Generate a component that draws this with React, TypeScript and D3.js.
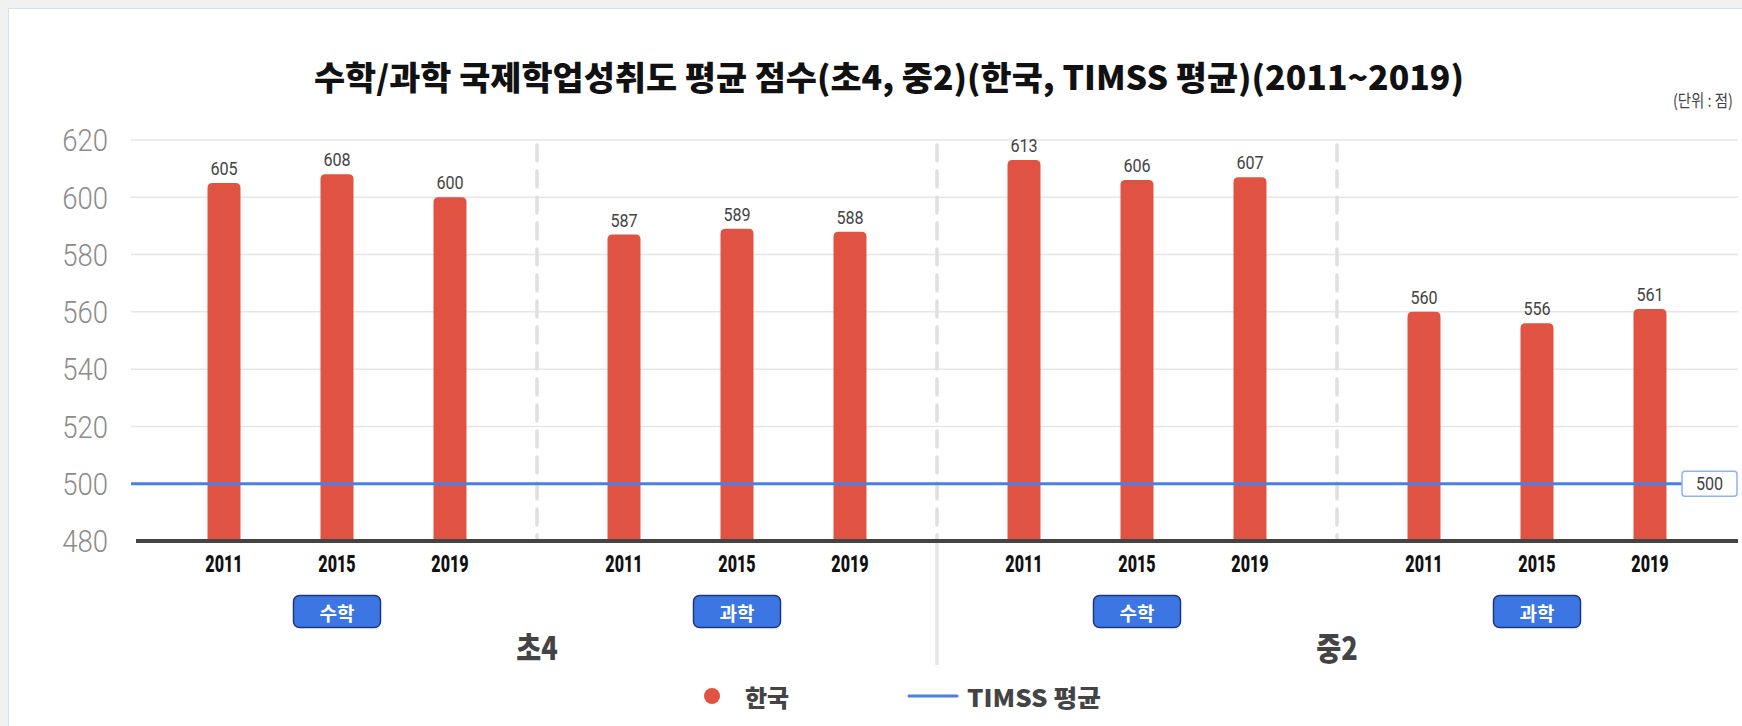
import React from 'react';
import * as d3 from 'd3';

// 데이터
const grades = ['초4', '중2'];
const subjects = ['수학', '과학', '수학', '과학'];
const years = ['2011', '2015', '2019'];
const math4 = [605, 608, 600];
const sci4 = [587, 589, 588];
const math8 = [613, 606, 607];
const sci8 = [560, 556, 561];
const timssAvg = 500;
const yDomain = [480, 620];
const legendLabels = ['한국', 'TIMSS 평균'];
const title = '수학/과학 국제학업성취도 평균 점수(초4, 중2)(한국, TIMSS 평균)(2011~2019)';
const unitLabel = '(단위 : 점)';

const RED = '#e05343';
const BLUE = '#4a7fe8';
const DARK = '#444';
const KR = '"Noto Sans CJK KR", "Noto Sans", sans-serif';
const NUM = 'Roboto, "Noto Sans", sans-serif';

const W = 1742;
const H = 726;

function topRounded(x: number, y: number, w: number, h: number, r: number) {
  return `M${x},${y + h}V${y + r}Q${x},${y} ${x + r},${y}H${x + w - r}Q${x + w},${y} ${x + w},${y + r}V${y + h}Z`;
}

export default function App() {
  const series = [math4, sci4, math8, sci8];
  const groupKeys = series.map((_, i) => `g${i}`);

  // 스케일
  const xGroup = d3.scaleBand<string>().domain(groupKeys).range([137, 1737]);
  const bw = xGroup.bandwidth();
  const xYear = d3.scalePoint<string>().domain(years).range([0, bw]).padding(0.77);
  const y = d3.scaleLinear().domain(yDomain).range([541, 140]);
  const ticks = y.ticks(7);

  const gridLeft = 131;
  const right = 1738;
  const barW = 33;
  const boxW = 57;

  return (
    <svg width={W} height={H} style={{ position: 'absolute', left: 0, top: 0 }}>
      <rect x={0} y={0} width={W} height={H} fill="#f1f1f1" />
      <rect x={8.5} y={8.5} width={W + 20} height={H + 20} fill="#fff" stroke="#d3e1f6" strokeWidth={1} />

      {/* 제목 */}
      <text
        x={889}
        y={76}
        textAnchor="middle"
        dominantBaseline="central"
        fontFamily={KR}
        fontWeight={900}
        fontSize={33}
        textLength={1150}
        lengthAdjust="spacingAndGlyphs"
        fill="#111"
      >
        {title}
      </text>
      <text
        transform={`translate(1733,100) scale(0.85,1)`}
        textAnchor="end"
        dominantBaseline="central"
        fontFamily={KR}
        fontSize={17}
        fill={DARK}
      >
        {unitLabel}
      </text>

      {/* 그리드 */}
      {ticks.map(t => (
        <g key={t}>
          {t !== yDomain[0] && (
            <line x1={gridLeft} x2={right} y1={y(t)} y2={y(t)} stroke="#e6e6e6" strokeWidth={1.5} />
          )}
          <text
            transform={`translate(108,${y(t)}) scale(0.86,1)`}
            textAnchor="end"
            dominantBaseline="central"
            fontFamily={NUM}
            fontWeight={300}
            fontSize={32}
            fill="#8c8c8c"
          >
            {t}
          </text>
        </g>
      ))}

      {/* 구분선 */}
      {groupKeys.slice(1).map((g, i) => (
        <g key={g}>
          <line
            x1={xGroup(g)!}
            x2={xGroup(g)!}
            y1={145}
            y2={y(yDomain[0])}
            stroke="#e0e0e0"
            strokeWidth={3.5}
            strokeDasharray="16 10"
            strokeLinecap="round"
          />
          {i === 1 && (
            <line x1={xGroup(g)!} x2={xGroup(g)!} y1={y(yDomain[0])} y2={665} stroke="#e6e6e6" strokeWidth={3.5} />
          )}
        </g>
      ))}

      {/* 막대 */}
      {series.map((vals, gi) =>
        vals.map((v, yi) => {
          const cx = xGroup(groupKeys[gi])! + xYear(years[yi])!;
          const top = y(v);
          return (
            <g key={`${gi}-${yi}`}>
              <path d={topRounded(cx - barW / 2, top, barW, y(yDomain[0]) - top, 5)} fill={RED} />
              <text
                transform={`translate(${cx},${top - 8}) scale(0.85,1)`}
                textAnchor="middle"
                fontFamily={NUM}
                fontSize={19}
                fill={DARK}
              >
                {v}
              </text>
              <text
                transform={`translate(${cx},${564}) scale(0.7,1)`}
                textAnchor="middle"
                dominantBaseline="central"
                fontFamily={NUM}
                fontWeight={900}
                fontSize={23}
                fill="#111"
              >
                {years[yi]}
              </text>
            </g>
          );
        })
      )}

      {/* TIMSS 평균 */}
      <line x1={gridLeft} x2={right - boxW + 1} y1={y(timssAvg)} y2={y(timssAvg)} stroke={BLUE} strokeWidth={3} />
      <rect
        x={right - boxW + 1}
        y={y(timssAvg) - 12.5}
        width={boxW - 2}
        height={25}
        rx={3}
        fill="#fff"
        stroke="#8fb3f0"
        strokeWidth={1.5}
      />
      <text
        transform={`translate(${right - boxW / 2},${y(timssAvg)}) scale(0.85,1)`}
        textAnchor="middle"
        dominantBaseline="central"
        fontFamily={NUM}
        fontSize={19}
        fill={DARK}
      >
        {timssAvg}
      </text>

      {/* 축 */}
      <line x1={136} x2={right} y1={y(yDomain[0])} y2={y(yDomain[0])} stroke={DARK} strokeWidth={4} />

      {/* 과목 배지 */}
      {subjects.map((s, i) => {
        const cx = xGroup(groupKeys[i])! + bw / 2;
        return (
          <g key={i}>
            <rect x={cx - 43.5} y={595.5} width={87} height={32} rx={6} fill="#3b76e3" stroke="#1e3480" strokeWidth={1.5} />
            <text
              x={cx}
              y={612}
              textAnchor="middle"
              dominantBaseline="central"
              fontFamily={KR}
              fontWeight={700}
              fontSize={19}
              fill="#fff"
            >
              {s}
            </text>
          </g>
        );
      })}

      {/* 학년 */}
      {grades.map((g, i) => {
        const cx = xGroup(groupKeys[i * 2 + 1])!;
        return (
          <text
            key={g}
            transform={`translate(${cx},${647}) scale(0.85,1)`}
            textAnchor="middle"
            dominantBaseline="central"
            fontFamily={KR}
            fontWeight={900}
            fontSize={32}
            fill={DARK}
          >
            {g}
          </text>
        );
      })}

      {/* 범례 */}
      <circle cx={712} cy={696} r={8} fill={RED} />
      <text x={745} y={696} dominantBaseline="central" fontFamily={KR} fontWeight={900} fontSize={24} fill={DARK}>
        {legendLabels[0]}
      </text>
      <line x1={909} x2={957} y1={696} y2={696} stroke={BLUE} strokeWidth={3} strokeLinecap="round" />
      <text
        x={967}
        y={696}
        dominantBaseline="central"
        fontFamily={KR}
        fontWeight={900}
        fontSize={24}
        textLength={134}
        lengthAdjust="spacingAndGlyphs"
        fill={DARK}
      >
        {legendLabels[1]}
      </text>
    </svg>
  );
}
